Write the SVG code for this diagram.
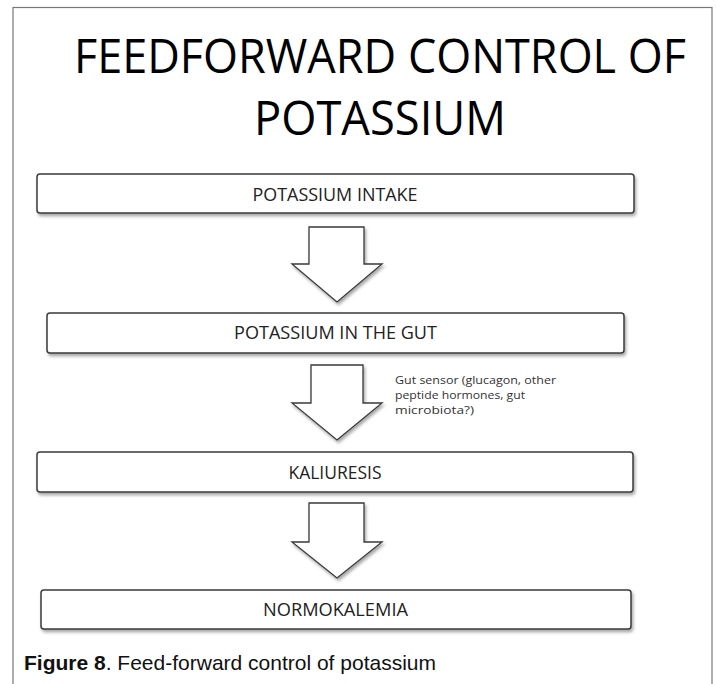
<svg xmlns="http://www.w3.org/2000/svg" width="717" height="684" viewBox="0 0 717 684">
<defs>
<filter id="sh" x="-10%" y="-20%" width="120%" height="160%">
<feDropShadow dx="1.5" dy="2.5" stdDeviation="1.5" flood-color="#000" flood-opacity="0.35"/>
</filter>
<style>
.box{fill:#fff;stroke:#3a3a3a;stroke-width:1.5;filter:url(#sh)}
.arr{fill:#fff;stroke:#3a3a3a;stroke-width:1.3;stroke-linejoin:miter;filter:url(#sh)}
.lbl{font-family:"Open Sans","Noto Sans",sans-serif;font-size:18px;fill:#222;text-anchor:middle}
.title{font-family:"Open Sans","Noto Sans",sans-serif;font-size:47px;fill:#000;text-anchor:middle}
.note{font-family:"Open Sans","Noto Sans",sans-serif;font-size:11.5px;fill:#333}
.cap{font-family:"Liberation Sans",Arial,sans-serif;font-size:21px;fill:#111}
</style>
</defs>
<rect width="717" height="684" fill="#fff"/>
<rect x="13" y="7.5" width="699" height="700" fill="none" stroke="#777" stroke-width="1.2"/>
<g id="title">
<text class="title" x="380" y="73" textLength="612" lengthAdjust="spacingAndGlyphs">FEEDFORWARD CONTROL OF</text>
<text class="title" x="380" y="135" textLength="252" lengthAdjust="spacingAndGlyphs">POTASSIUM</text>
</g>
<g id="connectors">
<path class="arr" d="M309,227 H364 V264 H382 L337,302 L292,264 H309 Z"/>
<path class="arr" d="M311,365 H363 V403 H382 L337,440 L292,403 H311 Z"/>
<path class="arr" d="M309,503 H364 V542 H382 L337,578 L292,542 H309 Z"/>
</g>
<g id="intake">
<rect class="box" x="37" y="174" width="597" height="39" rx="3"/>
<text class="lbl" x="335" y="201" textLength="165" lengthAdjust="spacingAndGlyphs">POTASSIUM INTAKE</text>
</g>
<g id="gut">
<rect class="box" x="47" y="313" width="577" height="40" rx="3"/>
<text class="lbl" x="335.5" y="339" textLength="203" lengthAdjust="spacingAndGlyphs">POTASSIUM IN THE GUT</text>
</g>
<g id="sensor">
<text class="note" x="395" y="384" textLength="161" lengthAdjust="spacingAndGlyphs">Gut sensor (glucagon, other</text>
<text class="note" x="395" y="399" textLength="130" lengthAdjust="spacingAndGlyphs">peptide hormones, gut</text>
<text class="note" x="395" y="414" textLength="79" lengthAdjust="spacingAndGlyphs">microbiota?)</text>
</g>
<g id="kaliuresis">
<rect class="box" x="37" y="452" width="596" height="40" rx="3"/>
<text class="lbl" x="335" y="479" textLength="93" lengthAdjust="spacingAndGlyphs">KALIURESIS</text>
</g>
<g id="normokalemia">
<rect class="box" x="41" y="590" width="590" height="39" rx="3"/>
<text class="lbl" x="335.5" y="616" textLength="145" lengthAdjust="spacingAndGlyphs">NORMOKALEMIA</text>
</g>
<g id="caption">
<text class="cap" x="24" y="670"><tspan font-weight="bold">Figure 8</tspan>. Feed-forward control of potassium</text>
</g>
</svg>
